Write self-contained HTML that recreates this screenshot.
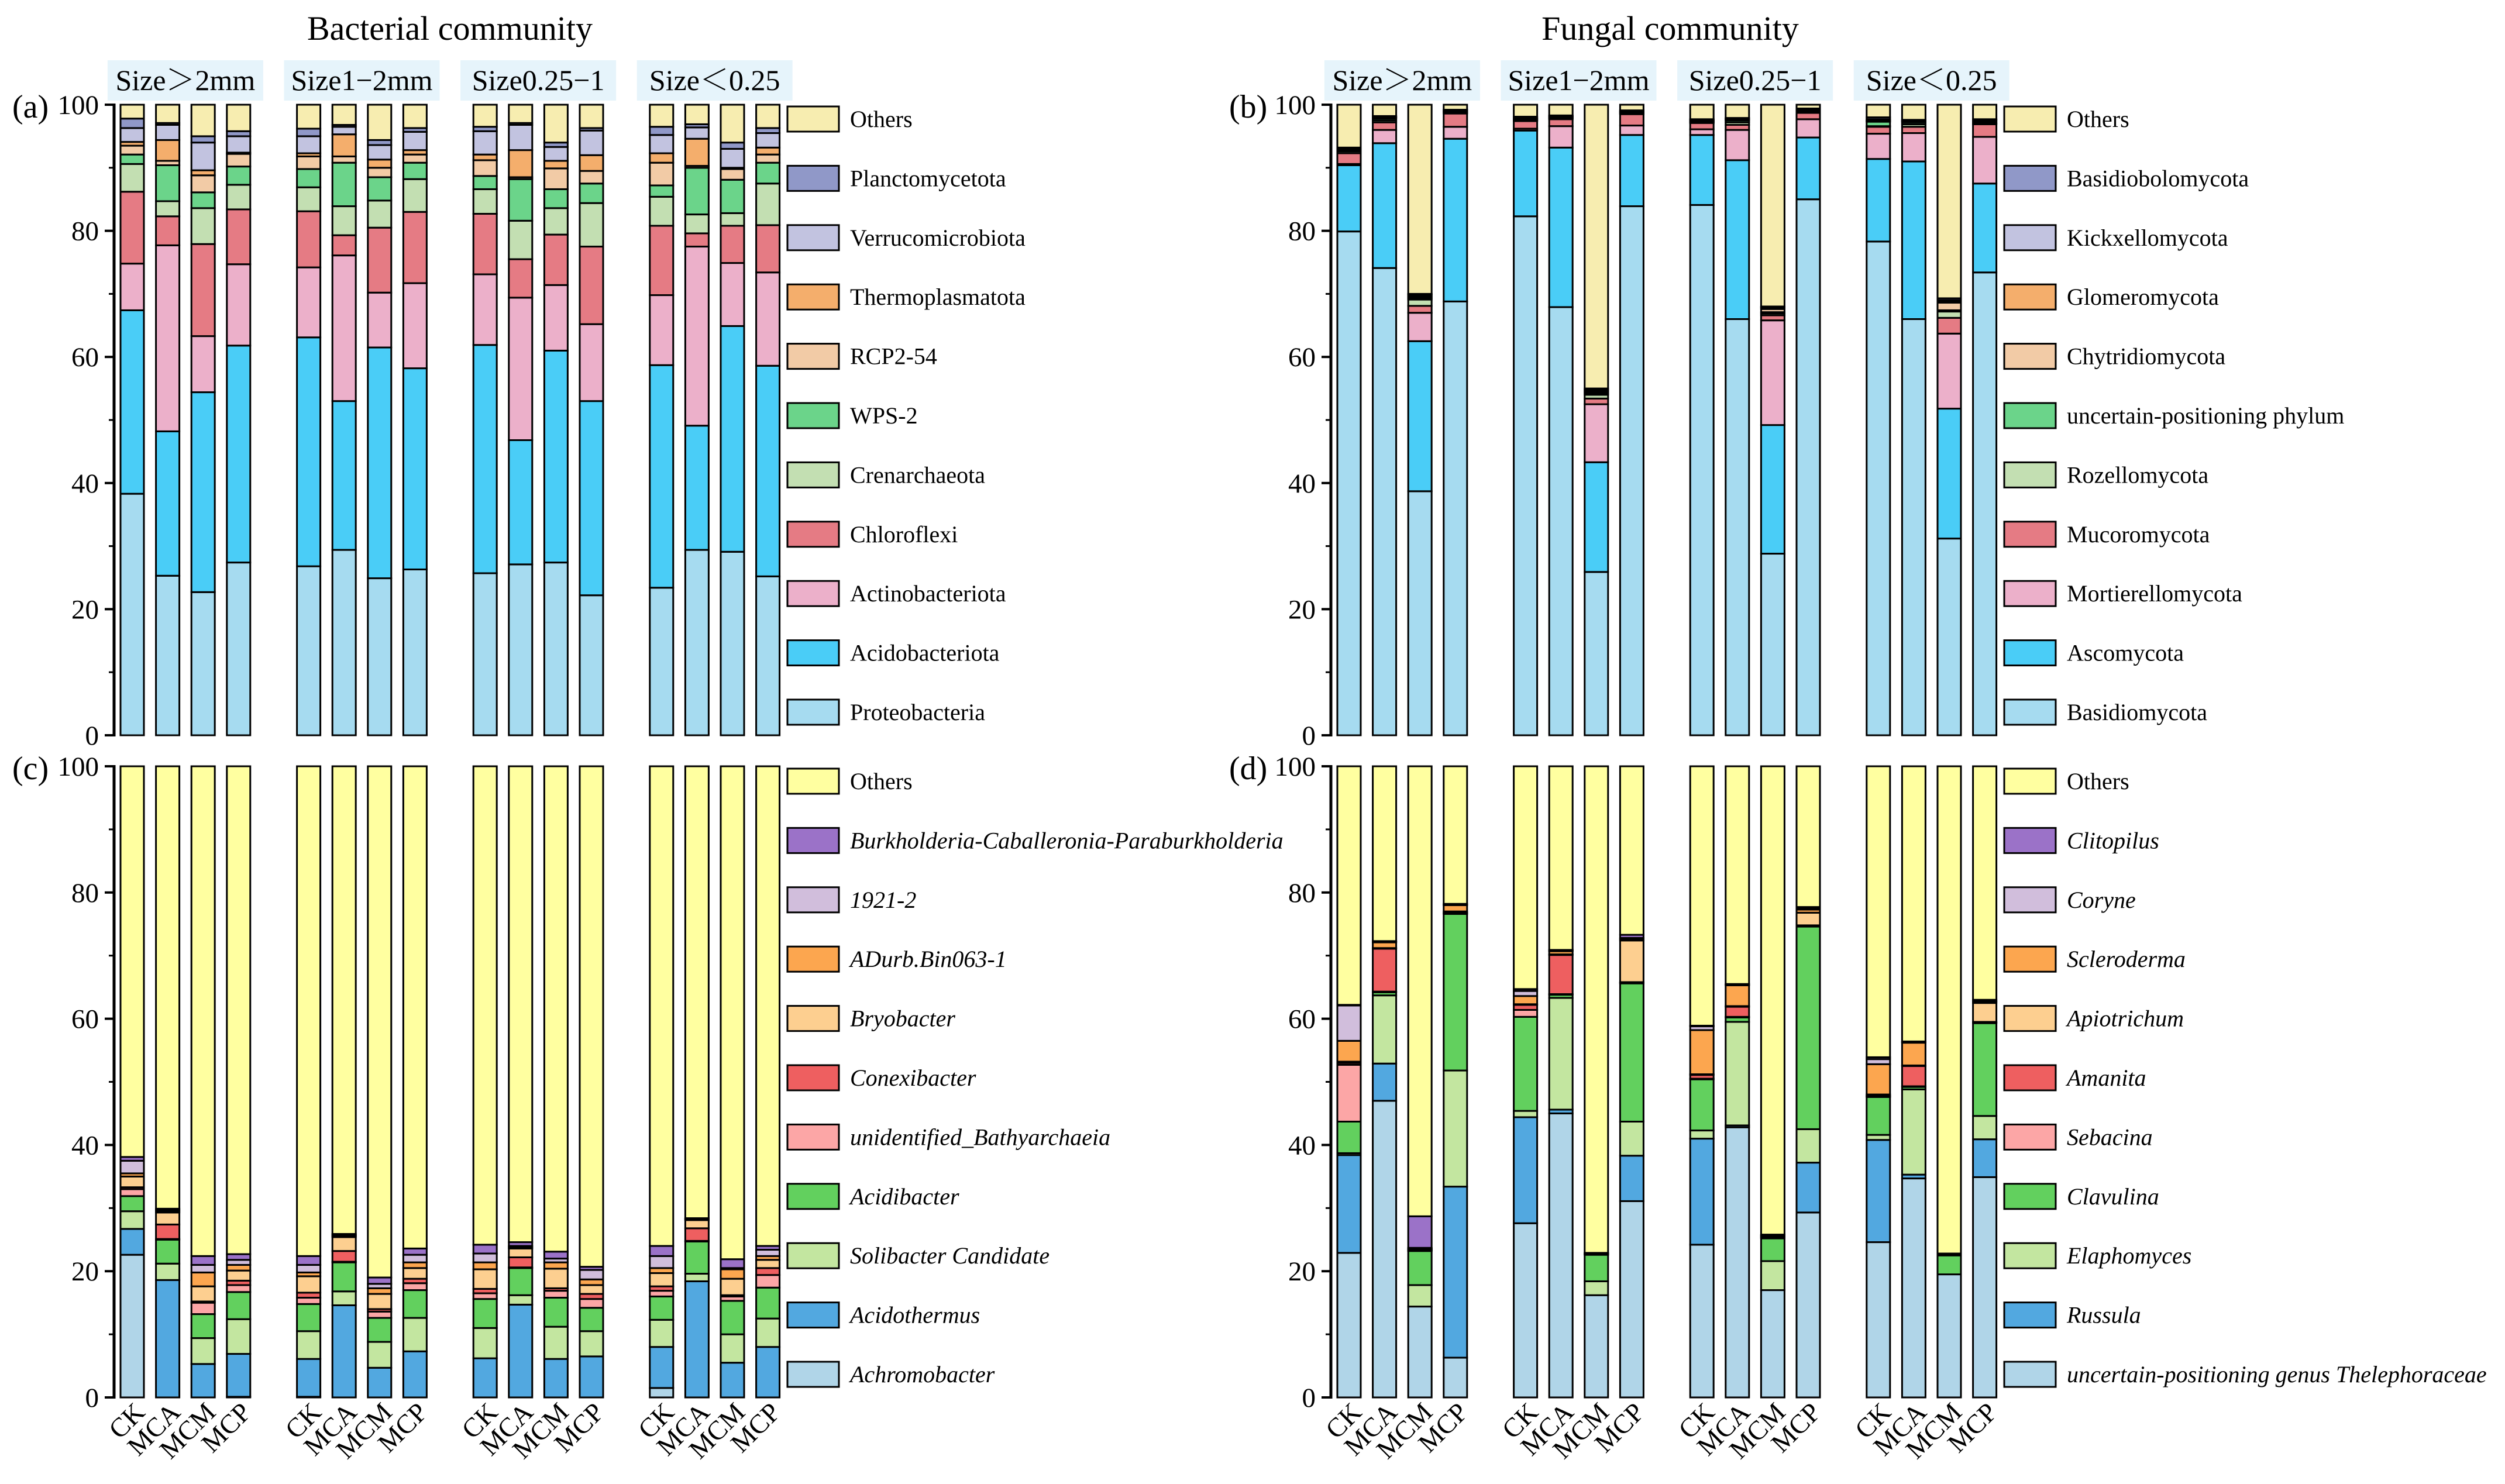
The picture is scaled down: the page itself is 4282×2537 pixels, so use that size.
<!DOCTYPE html>
<html><head><meta charset="utf-8"><style>
html,body{margin:0;padding:0;background:#fff;}
svg{display:block;font-family:"Liberation Serif","Noto Serif CJK SC",serif;}
</style></head><body>
<svg id="chart" width="4282" height="2537" viewBox="0 0 4282 2537" xmlns="http://www.w3.org/2000/svg">
<rect x="0" y="0" width="4282" height="2537" fill="#fff"/>
<text x="769" y="68" font-size="58" text-anchor="middle">Bacterial community</text>
<text x="2855" y="68" font-size="58" text-anchor="middle">Fungal community</text>
<g id="plots"></g>
</svg>
<script>
const groupLabels=['Size＞2mm','Size1−2mm','Size0.25−1','Size＜0.25'];
const treatments=['CK','MCA','MCM','MCP'];
const tickValues=[0,20,40,60,80,100];
const minorTicks=[10,30,50,70,90];

const namesA=['Proteobacteria','Acidobacteriota','Actinobacteriota','Chloroflexi','Crenarchaeota','WPS-2','RCP2-54','Thermoplasmatota','Verrucomicrobiota','Planctomycetota','Others'];
const namesB=['Basidiomycota','Ascomycota','Mortierellomycota','Mucoromycota','Rozellomycota','uncertain-positioning phylum','Chytridiomycota','Glomeromycota','Kickxellomycota','Basidiobolomycota','Others'];
const namesC=['Achromobacter','Acidothermus','Solibacter Candidate','Acidibacter','unidentified_Bathyarchaeia','Conexibacter','Bryobacter','ADurb.Bin063-1','1921-2','Burkholderia-Caballeronia-Paraburkholderia','Others'];
const namesD=['uncertain-positioning genus Thelephoraceae','Russula','Elaphomyces','Clavulina','Sebacina','Amanita','Apiotrichum','Scleroderma','Coryne','Clitopilus','Others'];

const colorsPhylum=['#a6dbf0','#4acdf7','#ecb0ca','#e57b84','#c3dfb2','#6bd48a','#f2cba6','#f4ae6c','#c2c3e0','#9098c8','#f7edb0'];
const colorsGenus=['#b0d5e8','#52a8e0','#c3e6a0','#62d05e','#fca6a6','#ee5f60','#fdcf90','#fca64f','#d1bedc','#9b72c8','#ffffa0'];

const valuesA=[
[38.3,29.1,7.4,11.4,4.4,1.5,1.4,0.6,2.2,1.5,2.2],
[25.3,22.9,29.5,4.6,2.4,5.7,0.7,3.3,2.4,0.3,2.9],
[22.7,31.7,8.9,14.6,5.7,2.5,2.7,0.8,4.4,1.0,5.0],
[27.4,34.4,12.9,8.7,3.9,2.9,2.0,0.2,2.6,0.8,4.2],
[26.8,36.3,11.1,8.9,3.8,2.9,2.0,0.5,2.7,1.2,3.8],
[29.4,23.6,23.1,3.2,4.6,6.9,1.0,3.5,1.2,0.3,3.2],
[24.9,36.6,8.7,10.3,4.3,3.7,1.5,1.3,2.3,0.8,5.6],
[26.3,31.9,13.5,11.3,5.2,2.6,1.3,0.7,2.9,0.6,3.7],
[25.7,36.2,11.2,9.6,3.9,2.1,2.5,0.9,3.7,0.7,3.5],
[27.1,19.7,22.6,6.1,6.1,6.6,0.3,4.3,4.0,0.3,2.9],
[27.4,33.6,10.4,8.0,4.2,3.0,3.3,1.2,2.2,0.7,6.0],
[22.2,30.8,12.2,12.3,6.9,3.1,2.0,2.5,3.9,0.4,3.7],
[23.4,35.3,11.1,11.0,4.6,1.8,3.6,1.5,2.9,1.3,3.5],
[29.4,19.7,28.4,2.1,3.0,7.4,0.3,4.3,1.8,0.5,3.1],
[29.1,35.8,10.0,5.9,2.0,5.3,1.7,0.2,3.0,1.0,6.0],
[25.2,33.4,14.8,7.5,6.6,3.3,1.3,1.1,2.3,0.8,3.7]];
const valuesB=[
[79.9,10.5,0.2,1.7,0.3,0.2,0.1,0.1,0.1,0.1,6.8],
[74.1,19.8,2.1,1.2,0.3,0.3,0.1,0.1,0.1,0.1,1.8],
[38.7,23.8,4.5,1.1,1.0,0.2,0.2,0.2,0.2,0.1,30.0],
[68.8,25.8,1.9,2.1,0.1,0.1,0.1,0.1,0.1,0.1,0.8],
[82.3,13.6,0.3,1.2,0.1,0.1,0.1,0.1,0.1,0.2,1.9],
[67.9,25.3,3.4,1.1,0.1,0.1,0.1,0.1,0.1,0.1,1.7],
[25.9,17.4,9.2,0.9,0.6,0.2,0.2,0.2,0.2,0.2,45.0],
[83.9,11.3,1.5,1.8,0.1,0.1,0.1,0.1,0.1,0.1,0.9],
[84.1,11.1,0.9,1.0,0.1,0.1,0.1,0.1,0.1,0.1,2.3],
[66.0,25.2,4.8,0.8,0.4,0.3,0.1,0.1,0.1,0.1,2.1],
[28.8,20.4,16.6,0.8,0.3,0.2,0.5,0.2,0.1,0.1,32.0],
[85.0,9.8,2.9,1.0,0.1,0.1,0.1,0.1,0.1,0.2,0.6],
[78.3,13.1,4.0,1.1,0.1,0.7,0.1,0.1,0.2,0.3,2.0],
[66.0,25.0,4.5,1.0,0.4,0.3,0.1,0.1,0.1,0.1,2.4],
[31.2,20.6,11.9,2.5,1.0,0.2,1.2,0.2,0.2,0.3,30.7],
[73.4,14.1,7.4,2.0,0.1,0.1,0.2,0.2,0.1,0.1,2.3]];
const valuesC=[
[22.6,4.1,2.8,2.4,1.1,0.3,1.7,0.5,2.0,0.6,61.9],
[0,18.6,2.6,3.8,0.1,2.3,1.9,0.2,0.2,0.2,70.1],
[0,5.3,4.1,3.8,1.8,0.2,2.4,2.2,1.2,1.4,77.6],
[0.1,6.8,5.5,4.3,1.1,0.7,1.6,0.9,0.8,0.9,77.3],
[0.1,6.0,4.4,4.3,1.0,0.8,2.6,0.6,1.2,1.4,77.6],
[0,14.6,2.2,4.6,0.1,1.7,2.2,0.2,0.1,0.2,74.1],
[0,4.7,4.1,3.8,1.0,0.4,2.4,0.9,0.7,1.0,81.0],
[0,7.3,5.3,4.4,1.1,0.7,1.7,0.9,1.2,1.0,76.4],
[0,6.2,4.8,4.6,0.9,0.7,3.1,1.1,1.4,1.4,75.8],
[0,14.7,1.5,4.3,0.1,1.6,1.4,0.2,0.2,0.6,75.4],
[0,6.1,5.1,4.6,1.1,0.4,3.1,1.0,0.6,1.1,76.9],
[0,6.5,4.0,3.7,1.4,0.8,1.4,0.9,1.5,0.5,79.3],
[1.5,6.5,4.3,3.7,0.9,0.7,2.1,0.8,1.9,1.6,76.0],
[0,18.4,1.2,5.1,0.1,2.0,1.3,0.1,0.1,0.1,71.6],
[0,5.5,4.5,5.3,0.7,0.2,2.6,1.5,0.2,1.4,78.1],
[0,8.0,4.5,4.9,2.0,1.1,1.3,0.6,1.0,0.6,76.0]];
const valuesD=[
[22.9,15.5,0.3,5.0,9.0,0.3,0.2,3.3,5.6,0.1,37.8],
[47.0,5.9,10.8,0.5,0.1,6.8,0.1,0.9,0.1,0.1,27.7],
[14.4,0,3.4,5.4,0.1,0.1,0.1,0.1,0.1,5.0,71.3],
[6.3,27.1,18.4,24.8,0.1,0.1,0.2,1.0,0.1,0.1,21.8],
[27.6,16.8,1.0,14.9,1.1,0.8,0.1,1.3,0.8,0.3,35.3],
[45.0,0.6,17.7,0.5,0.1,6.2,0.1,0.5,0.1,0.1,29.1],
[16.2,0,2.2,4.2,0.05,0.05,0.05,0.05,0.05,0.05,77.3],
[31.1,7.2,5.4,21.9,0.1,0.1,6.6,0.2,0.2,0.5,26.7],
[24.2,16.8,1.3,8.1,0.1,0.6,0.1,7.0,0.6,0.1,41.1],
[42.8,0.3,16.4,0.7,0.1,1.6,0.1,3.3,0.1,0.1,34.5],
[17.0,0,4.6,3.6,0.1,0.1,0.1,0.1,0.1,0.1,74.2],
[29.3,7.9,5.3,32.1,0.1,0.1,2.0,0.5,0.2,0.2,22.3],
[24.6,16.2,0.8,6.0,0.1,0.1,0.2,4.8,0.8,0.3,46.1],
[34.7,0.6,13.5,0.4,0.1,3.2,0.1,3.6,0.1,0.1,43.6],
[19.5,0,0,3.0,0.05,0.05,0.05,0.05,0.05,0.05,77.2],
[34.9,6.0,3.7,14.7,0.1,0.1,3.0,0.2,0.1,0.2,37.0]];

const NS='http://www.w3.org/2000/svg';
const root=document.getElementById('plots');
function mk(tag,attrs,parent){const e=document.createElementNS(NS,tag);for(const k in attrs)e.setAttribute(k,attrs[k]);(parent||root).appendChild(e);return e;}

function drawPanel(cfg){
  const g=mk('g',{});
  
  
  const yS=v=>cfg.y0-v/100*(cfg.y0-cfg.y100);
  const xS=(gi,ti)=>cfg.bar0+gi*301.6+ti*60.6;
  const bw=40;
  // panel letter
  const pl=mk('text',{x:cfg.axis-174,y:cfg.y100+22,'font-size':56},g);pl.textContent='('+cfg.id+')';
  
  
  // axis
  const ax=mk('line',{x1:cfg.axis,y1:cfg.y100-2,x2:cfg.axis,y2:cfg.y0+2,stroke:'#000','stroke-width':5},g);
  
  
  tickValues.forEach(v=>{
    const tk=mk('line',{x1:cfg.axis-16,y1:yS(v),x2:cfg.axis,y2:yS(v),stroke:'#000','stroke-width':4},g);
    
    
    const tl=mk('text',{x:cfg.axis-26,y:yS(v)+16,'font-size':47,'text-anchor':'end'},g);tl.textContent=v;
    
    
  });
  minorTicks.forEach(v=>{
    const tk=mk('line',{x1:cfg.axis-9,y1:yS(v),x2:cfg.axis,y2:yS(v),stroke:'#000','stroke-width':3},g);
    
    
  });
  // group headers
  if(cfg.headers){
    groupLabels.forEach((lab,gi)=>{
      const cx=xS(gi,0)+(3*60.6+bw)/2;
      const r=mk('rect',{x:cx-133,y:103,width:266,height:69,fill:'#e6f4fb'},g);
      
      
      const t=mk('text',{x:cx,y:154,'font-size':50,'text-anchor':'middle'},g);t.textContent=lab;
      
      
    });
  }
  // bars
  cfg.values.forEach((segs,bi)=>{
    const gi=Math.floor(bi/4),ti=bi%4;
    const x=xS(gi,ti);
    let cum=0;
    segs.forEach((v,si)=>{
      const top=cum+v;
      const r=mk('rect',{x:x,y:yS(Math.min(top,100)),width:bw,height:Math.max(0,yS(cum)-yS(Math.min(top,100))),fill:cfg.colors[si],stroke:'#000','stroke-width':3},g);
      
      
      cum=top;
    });
    if(cfg.xlabels){
      const cx=x+bw/2+24, cy=cfg.y0+28;
      const t=mk('text',{x:cx,y:cy,'font-size':46,'text-anchor':'end',transform:'rotate(-45 '+cx+' '+cy+')'},g);
      t.textContent=treatments[ti];
      
      
    }
  });
  // legend
  for(let k=0;k<11;k++){
    const si=10-k;
    const y=cfg.legTop+k*101.4;
    const r=mk('rect',{x:cfg.legX,y:y,width:88,height:43,fill:cfg.colors[si],stroke:'#000','stroke-width':3},g);
    
    
    const t=mk('text',{x:cfg.legX+107,y:y+35,'font-size':40},g);
    if(cfg.italic && si!==10)t.setAttribute('font-style','italic');
    t.textContent=cfg.names[si];
    
    
  }
}
drawPanel({id:'a',axis:195,bar0:206,y100:179,y0:1257,values:valuesA,colors:colorsPhylum,names:namesA,legX:1346,legTop:182,headers:true,xlabels:false,italic:false});
drawPanel({id:'b',axis:2275,bar0:2286,y100:179,y0:1257,values:valuesB,colors:colorsPhylum,names:namesB,legX:3426,legTop:182,headers:true,xlabels:false,italic:false});
drawPanel({id:'c',axis:195,bar0:206,y100:1310,y0:2389,values:valuesC,colors:colorsGenus,names:namesC,legX:1346,legTop:1314,headers:false,xlabels:true,italic:true});
drawPanel({id:'d',axis:2275,bar0:2286,y100:1310,y0:2389,values:valuesD,colors:colorsGenus,names:namesD,legX:3426,legTop:1314,headers:false,xlabels:true,italic:true});
</script>
</body></html>
